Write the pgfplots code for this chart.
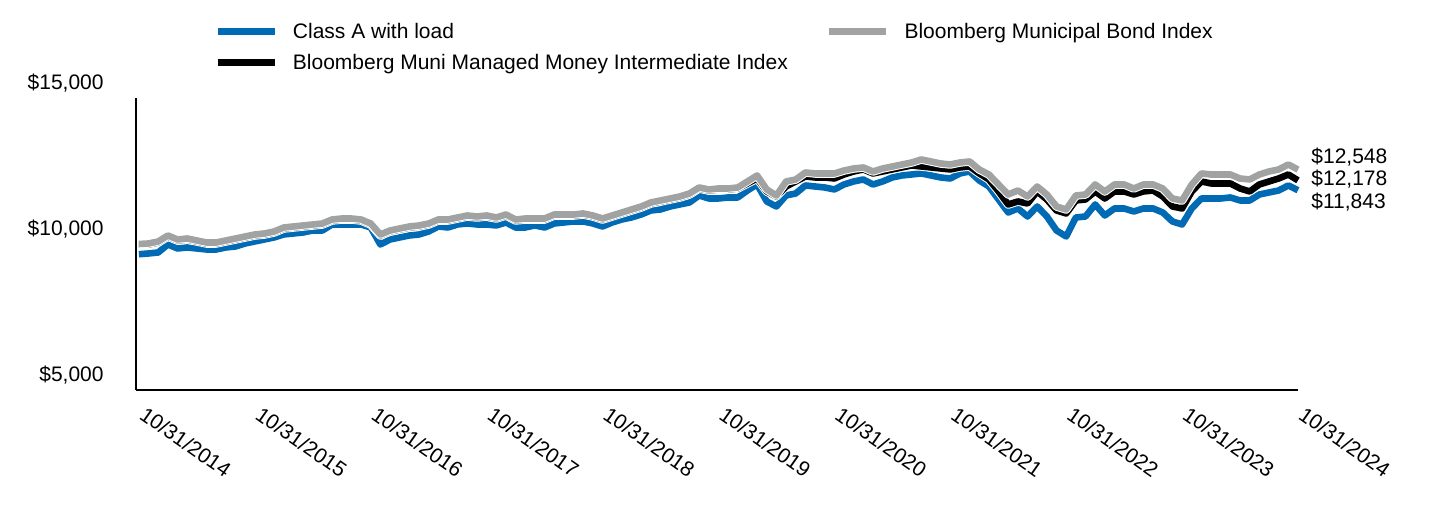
\documentclass[border=0pt]{standalone}
\usepackage{fontspec}
\setmainfont{Liberation Sans}
\usepackage{pgfplots}
\usepackage{pgfplotstable}
\pgfplotsset{compat=1.18}
\definecolor{fundblue}{RGB}{0,106,180}
\definecolor{idxgray}{RGB}{160,163,162}

% month, Class A with load, Bloomberg Municipal, Bloomberg Muni Managed Money Intermediate
\pgfplotstableread{
m fund muni mmi
0 9650 10000 10000
1 9676 10018 9984
2 9710 10087 10052
3 9984 10292 10258
4 9847 10155 10121
5 9881 10189 10155
6 9847 10121 10087
7 9812 10052 10018
8 9812 10052 10018
9 9881 10121 10087
10 9915 10189 10155
11 10018 10258 10224
12 10087 10326 10292
13 10155 10361 10326
14 10224 10429 10395
15 10326 10566 10532
16 10361 10600 10566
17 10395 10635 10600
18 10463 10669 10635
19 10463 10703 10669
20 10669 10840 10806
21 10669 10874 10840
22 10669 10874 10840
23 10669 10840 10806
24 10566 10703 10669
25 9984 10326 10292
26 10155 10463 10429
27 10224 10532 10498
28 10292 10600 10566
29 10326 10635 10600
30 10429 10703 10669
31 10600 10840 10806
32 10566 10840 10806
33 10669 10909 10874
34 10703 10977 10943
35 10669 10943 10909
36 10669 10977 10943
37 10635 10909 10874
38 10737 11011 10977
39 10566 10840 10806
40 10566 10874 10840
41 10635 10874 10840
42 10566 10874 10840
43 10703 11011 10977
44 10737 11011 10977
45 10772 11011 10977
46 10772 11046 11011
47 10703 10977 10943
48 10600 10874 10840
49 10737 10977 10943
50 10840 11080 11046
51 10909 11183 11148
52 11011 11285 11251
53 11148 11422 11388
54 11183 11491 11457
55 11285 11559 11525
56 11354 11628 11594
57 11422 11731 11696
58 11662 11936 11902
59 11559 11868 11833
60 11559 11902 11868
61 11594 11902 11868
62 11594 11936 11902
63 11833 12142 12073
64 12039 12347 12244
65 11457 11868 11799
66 11285 11662 11628
67 11662 12142 11970
68 11731 12210 12142
69 12005 12450 12313
70 11970 12416 12279
71 11936 12416 12279
72 11868 12416 12244
73 12039 12518 12381
74 12142 12587 12484
75 12210 12621 12553
76 12039 12484 12416
77 12142 12587 12484
78 12279 12655 12553
79 12347 12724 12621
80 12381 12792 12690
81 12416 12895 12655
82 12347 12827 12621
83 12279 12758 12587
84 12244 12724 12553
85 12416 12792 12621
86 12484 12827 12655
87 12176 12553 12416
88 11970 12381 12210
89 11525 12039 11799
90 11080 11696 11354
91 11217 11833 11457
92 10943 11628 11388
93 11285 11970 11799
94 10943 11696 11525
95 10463 11285 11148
96 10258 11183 11046
97 10909 11662 11491
98 10943 11696 11525
99 11354 12039 11799
100 10977 11799 11559
101 11217 12039 11799
102 11217 12039 11799
103 11114 11902 11696
104 11217 12039 11799
105 11217 12039 11833
106 11080 11902 11628
107 10772 11559 11285
108 10669 11491 11217
109 11217 12039 11799
110 11559 12416 12142
111 11559 12381 12073
112 11559 12381 12073
113 11594 12381 12073
114 11491 12244 11902
115 11491 12210 11799
116 11696 12381 12039
117 11765 12484 12142
118 11833 12553 12244
119 12005 12724 12381
120 11843 12548 12178
}\growth

\begin{document}
\begin{tikzpicture}[font=\fontsize{10.5}{12.6}\selectfont]
\useasboundingbox (-68pt,-63pt) rectangle (652pt,195pt);
\begin{axis}[
    at={(0,0)}, anchor=south west,
    scale only axis,
    width=581pt, height=146pt,
    xmin=-0.3, xmax=120,
    ymin=5000, ymax=15000,
    axis x line*=bottom, axis y line*=left,
    axis line style={line width=1pt,-},
    major tick length=0pt,
    scaled ticks=false,
    xtick={0,12,...,120},
    xticklabels={10/31/2014,10/31/2015,10/31/2016,10/31/2017,10/31/2018,10/31/2019,10/31/2020,10/31/2021,10/31/2022,10/31/2023,10/31/2024},
    xticklabel style={anchor=north west, inner sep=0pt, xshift=4pt, yshift=-7.5pt, rotate=-35},
    ytick={5000,10000,15000},
    yticklabels={{\$5,000},{\$10,000},{\$15,000}},
    yticklabel style={anchor=east, inner sep=0pt, xshift=-16pt, yshift=7.5pt},
    clip=false,
    legend columns=2,
    legend cell align=left,
    legend style={at={(axis description cs:0.0671,1.258)}, anchor=north west,
        draw=none, fill=none, inner sep=0pt, column sep=7.5pt, row sep=5.5pt,
        nodes={inner sep=0pt, text height=7.5pt, text depth=2.5pt}},
    legend image code/.code={\draw[#1, line width=3.3pt] (0pt,0.8pt) -- (28.5pt,0.8pt);},
]
\addplot[fundblue, line width=3.3pt, line join=round, forget plot] table[x=m, y=fund] {\growth};
\addplot[black, line width=3.3pt, line join=round, forget plot,
    preaction={draw=white, line width=4.3pt}] table[x=m, y=mmi] {\growth};
\addplot[idxgray, line width=3.3pt, line join=round, forget plot,
    preaction={draw=white, line width=4.3pt}] table[x=m, y=muni] {\growth};

\addlegendimage{fundblue}
\addlegendentry{\makebox[259pt][l]{Class A with load}}
\addlegendimage{idxgray}
\addlegendentry{Bloomberg Municipal Bond Index}
\addlegendimage{black}
\addlegendentry{\makebox[259pt][l]{Bloomberg Muni Managed Money Intermediate Index}}

\node[anchor=west, inner sep=0pt, xshift=6.5pt] at (axis cs:120,12979) {\$12,548};
\node[anchor=west, inner sep=0pt, xshift=6.5pt] at (axis cs:120,12226) {\$12,178};
\node[anchor=west, inner sep=0pt, xshift=6.5pt] at (axis cs:120,11438) {\$11,843};
\end{axis}
\end{tikzpicture}
\end{document}
